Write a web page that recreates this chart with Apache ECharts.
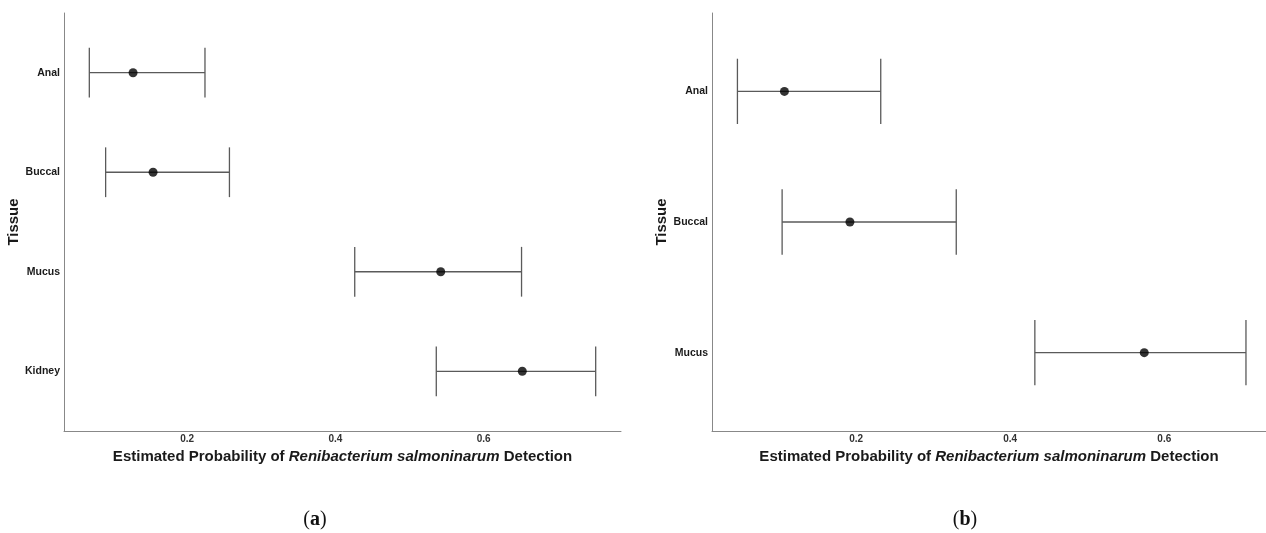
<!DOCTYPE html>
<html>
<head>
<meta charset="utf-8">
<script src="https://cdn.jsdelivr.net/npm/echarts@6/dist/echarts.min.js"></script>
<style>
  html, body { margin: 0; padding: 0; background: #fff; }
  #chart { width: 1266px; height: 533px; }
</style>
</head>
<body>
<div id="chart"></div>
<script>
// panel (a)
const tissuesA = ['Anal', 'Buccal', 'Mucus', 'Kidney'];
const estA = [0.127, 0.154, 0.542, 0.652];
const lowerA = [0.068, 0.090, 0.426, 0.536];
const upperA = [0.224, 0.257, 0.651, 0.751];

// panel (b)
const tissuesB = ['Anal', 'Buccal', 'Mucus'];
const estB = [0.107, 0.192, 0.574];
const lowerB = [0.046, 0.104, 0.432];
const upperB = [0.232, 0.330, 0.706];

const xTicks = [0.2, 0.4, 0.6];
const panelLabels = ['a', 'b'];

const FONT = '"Liberation Sans", Arial, sans-serif';
const xName = '{n|Estimated Probability of }{i|Renibacterium salmoninarum}{n| Detection}';

// ggplot style expansion: 5% on continuous, 0.6 on discrete
function xRange(lo, hi) {
    const a = Math.min(...lo), b = Math.max(...hi);
    const pad = (b - a) * 0.05;
    return [a - pad, b + pad];
}

function makeX(idx, lo, hi, cropMax) {
    const r = xRange(lo, hi);
    return {
        type: 'value', gridIndex: idx, min: r[0], max: cropMax || r[1],
        name: xName, nameLocation: 'middle', nameGap: 13,
        nameTextStyle: {
            rich: {
                n: {fontFamily: FONT, fontWeight: 'bold', fontSize: 15, color: '#1a1a1a'},
                i: {fontFamily: FONT, fontWeight: 'bold', fontStyle: 'italic', fontSize: 15, color: '#1a1a1a'}
            }
        },
        axisLine: {show: true, onZero: false, lineStyle: {color: '#888', width: 1}},
        axisTick: {show: false},
        splitLine: {show: false},
        axisLabel: {
            customValues: xTicks, margin: 3,
            fontFamily: FONT, fontWeight: 'bold', fontSize: 10, color: '#333',
            formatter: v => String(Math.round(v * 10) / 10)
        }
    };
}

function makeY(idx, cats, gap) {
    return {
        type: 'value', gridIndex: idx, inverse: true,
        min: -0.6, max: cats.length - 1 + 0.6,
        name: 'Tissue', nameLocation: 'middle', nameGap: gap, nameRotate: 90,
        nameTextStyle: {fontFamily: FONT, fontWeight: 'bold', fontSize: 15, color: '#1a1a1a'},
        axisLine: {show: true, onZero: false, lineStyle: {color: '#888', width: 1}},
        axisTick: {show: false},
        splitLine: {show: false},
        axisLabel: {
            customValues: cats.map((c, i) => i), margin: 4,
            fontFamily: FONT, fontWeight: 'bold', fontSize: 10.5, color: '#1a1a1a',
            formatter: v => cats[Math.round(v)]
        }
    };
}

function errorBars(idx, lo, hi) {
    return {
        type: 'custom', xAxisIndex: idx, yAxisIndex: idx,
        data: lo.map((l, i) => [i, l, hi[i]]),
        renderItem: function (params, api) {
            const y = api.value(0);
            const p1 = api.coord([api.value(1), y]);
            const p2 = api.coord([api.value(2), y]);
            const h = api.size([0, 0.25])[1];
            const style = {stroke: '#5a5a5a', lineWidth: 1.3};
            return {
                type: 'group',
                children: [
                    {type: 'line', shape: {x1: p1[0], y1: p1[1], x2: p2[0], y2: p2[1]}, style: style},
                    {type: 'line', shape: {x1: p1[0], y1: p1[1] - h, x2: p1[0], y2: p1[1] + h}, style: style},
                    {type: 'line', shape: {x1: p2[0], y1: p2[1] - h, x2: p2[0], y2: p2[1] + h}, style: style}
                ]
            };
        },
        silent: true, z: 2
    };
}

function points(idx, est) {
    return {
        type: 'scatter', xAxisIndex: idx, yAxisIndex: idx,
        data: est.map((e, i) => [e, i]),
        symbol: 'circle', symbolSize: 9,
        itemStyle: {color: '#000'},
        silent: true, z: 3
    };
}

const chart = echarts.init(document.getElementById('chart'));
chart.setOption({
    animation: false,
    backgroundColor: '#fff',
    grid: [
        {left: 64, top: 13, width: 557, height: 418},
        {left: 712, top: 13, width: 554, height: 418}
    ],
    // panel (b) is cut off at the right edge of the figure
    xAxis: [makeX(0, lowerA, upperA), makeX(1, lowerB, upperB, 0.732)],
    yAxis: [makeY(0, tissuesA, 40), makeY(1, tissuesB, 40)],
    series: [
        errorBars(0, lowerA, upperA), points(0, estA),
        errorBars(1, lowerB, upperB), points(1, estB)
    ],
    graphic: panelLabels.map((p, i) => ({
        type: 'text',
        x: i === 0 ? 315 : 965, y: 520,
        style: {
            text: '({b|' + p + '})',
            font: '20px "Liberation Serif", serif',
            fill: '#111',
            align: 'center', verticalAlign: 'middle',
            rich: {b: {fontFamily: '"Liberation Serif", serif', fontWeight: 'bold', fontSize: 20, fill: '#111'}}
        }
    }))
});
</script>
</body>
</html>
